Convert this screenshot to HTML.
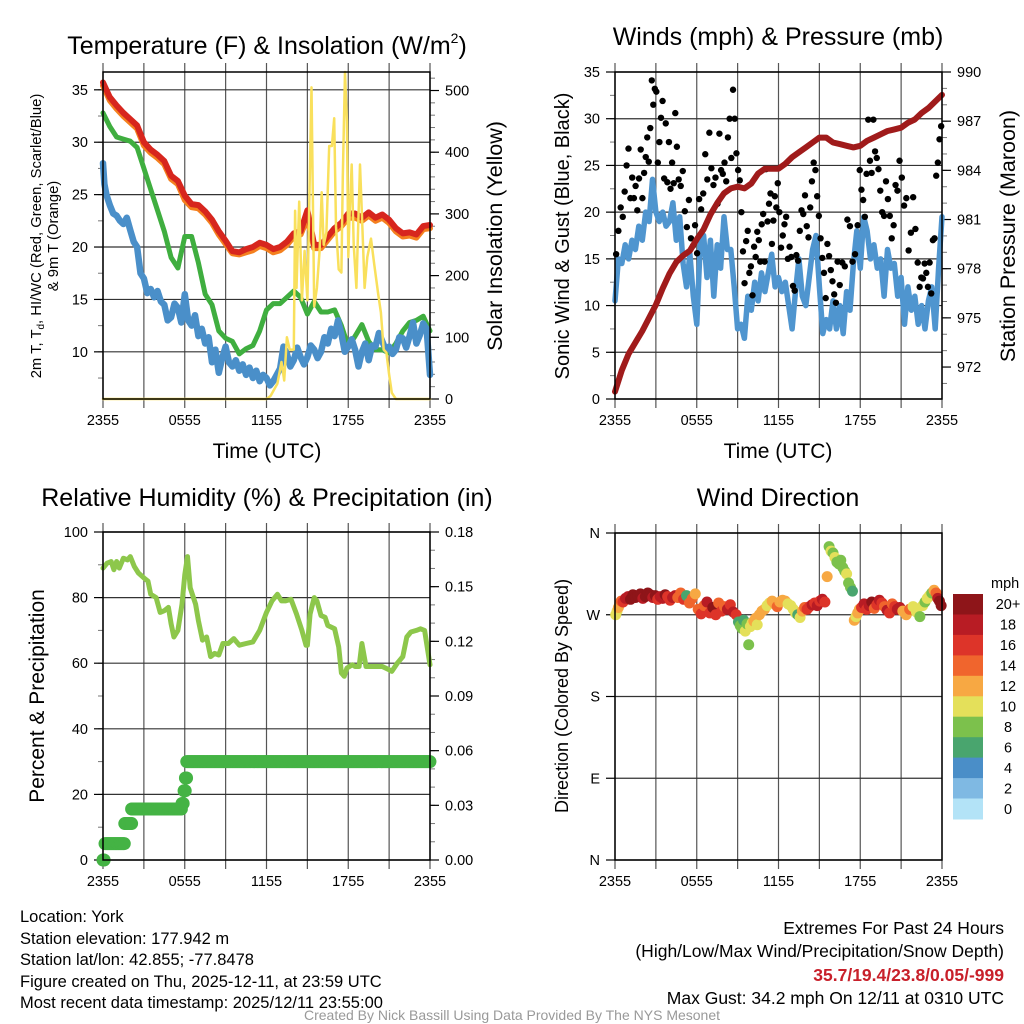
<!DOCTYPE html>
<html><head><meta charset="utf-8"><style>
html,body{margin:0;padding:0;background:#fff;}
svg{display:block;font-family:"Liberation Sans",Arial,sans-serif;}
</style></head><body>
<svg id="chart" width="1024" height="1024" viewBox="0 0 1024 1024" xmlns="http://www.w3.org/2000/svg">
<rect x="0" y="0" width="1024" height="1024" fill="#fff"/>
<text x="267" y="54" font-size="25" text-anchor="middle">Temperature (F) &amp; Insolation (W/m<tspan font-size="14" dy="-11">2</tspan><tspan dy="11">)</tspan></text>
<text x="778" y="45" font-size="25" text-anchor="middle">Winds (mph) &amp; Pressure (mb)</text>
<text x="267" y="506" font-size="25" text-anchor="middle">Relative Humidity (%) &amp; Precipitation (in)</text>
<text x="778" y="506" font-size="25" text-anchor="middle">Wind Direction</text>

<text font-size="14.8" text-anchor="middle" transform="translate(41,236) rotate(-90)">2m T, T<tspan font-size="10" dy="3">d</tspan><tspan dy="-3">, HI/WC (Red, Green, Scarlet/Blue)</tspan></text>
<text font-size="14.8" text-anchor="middle" transform="translate(58,236) rotate(-90)">&amp; 9m T (Orange)</text>
<text font-size="21.5" text-anchor="middle" transform="translate(502,236) rotate(-90)">Solar Insolation (Yellow)</text>
<text font-size="20" text-anchor="middle" transform="translate(569,236) rotate(-90)">Sonic Wind &amp; Gust (Blue, Black)</text>
<text font-size="21.5" text-anchor="middle" transform="translate(1015,236) rotate(-90)">Station Pressure (Maroon)</text>
<text font-size="21" text-anchor="middle" transform="translate(44,696) rotate(-90)">Percent &amp; Precipitation</text>
<text font-size="18" text-anchor="middle" transform="translate(568,696) rotate(-90)">Direction (Colored By Speed)</text>
<text x="267" y="458" font-size="21" text-anchor="middle">Time (UTC)</text>
<text x="778" y="458" font-size="21" text-anchor="middle">Time (UTC)</text>

<g font-size="16.5">
<text x="20" y="922">Location: York</text>
<text x="20" y="944">Station elevation: 177.942 m</text>
<text x="20" y="965">Station lat/lon: 42.855; -77.8478</text>
<text x="20" y="987">Figure created on Thu, 2025-12-11, at 23:59 UTC</text>
<text x="20" y="1008">Most recent data timestamp: 2025/12/11 23:55:00</text>
</g>
<g font-size="17.5" text-anchor="end">
<text x="1004" y="934">Extremes For Past 24 Hours</text>
<text x="1004" y="957">(High/Low/Max Wind/Precipitation/Snow Depth)</text>
<text x="1004" y="981" fill="#c8202a" font-weight="bold">35.7/19.4/23.8/0.05/-999</text>
<text x="1004" y="1004">Max Gust: 34.2 mph On 12/11 at 0310 UTC</text>
</g>
<text x="512" y="1020" font-size="14" fill="#999" text-anchor="middle">Created By Nick Bassill Using Data Provided By The NYS Mesonet</text>
</svg>
<script>
// ---------- DATA ----------
const xTickHours = [0, 6, 12, 18, 24];
const xTickLabels = ["2355", "0555", "1155", "1755", "2355"];

const tempT = [0,0.5,1,1.5,2,2.5,3,3.5,4,4.5,5,5.5,6,6.5,7,7.5,8,8.5,9,9.5,10,10.5,11,11.5,12,12.5,13,13.5,14,14.5,15,15.5,16,16.5,17,17.5,18,18.5,19,19.5,20,20.5,21,21.5,22,22.5,23,23.5,24];
const tempRed = [35.7,34.3,33.5,32.8,32.2,31.6,30,29.3,28.8,28.2,26.8,26.3,24.9,24.1,24,23.4,22.6,21.5,20.6,19.6,19.5,19.8,20,20.4,20.2,19.8,20,20.5,21.3,21.5,23.5,20.2,20.2,21,21.8,22.3,23.2,23.2,22.8,23.3,22.8,23.1,22.6,21.8,21.3,21.4,21.2,22,22.1];
const tempOrange = [35.4,34,33.2,32.5,31.9,31.3,29.7,29,28.5,27.9,26.5,26,24.5,23.8,23.7,23.1,22.3,21.2,20.3,19.4,19.3,19.5,19.7,20.1,19.9,19.5,19.7,20.2,21,21.2,22.8,19.9,19.9,20.7,21.5,22,22.8,22.8,22.5,23,22.5,22.8,22.3,21.5,21,21.1,20.9,21.7,21.8];
const dewGreen = [32.8,31.5,30.5,30.3,30.1,29.5,27.5,25.5,23.5,21.5,19,18,21,21,18.5,15.5,14.5,12,11.3,11,9.8,10.3,10.6,12,14,14.6,14.6,15.2,15.8,15.2,13.6,14.8,13.8,13.8,14,12.5,10.5,11.5,12.6,11,10.2,10.2,9.9,10.8,12,12.8,13,13.4,12];
const chillT = [0,0.1,0.25,0.5,0.75,1,1.25,1.5,1.75,2,2.25,2.5,2.75,3,3.25,3.5,3.75,4,4.25,4.5,4.75,5,5.25,5.5,5.75,6,6.25,6.5,6.75,7,7.25,7.5,7.75,8,8.25,8.5,8.75,9,9.25,9.5,9.75,10,10.25,10.5,10.75,11,11.25,11.5,11.75,12,12.25,12.5,12.75,13,13.25,13.5,13.75,14,14.25,14.5,14.75,15,15.25,15.5,15.75,16,16.25,16.5,16.75,17,17.25,17.5,17.75,18,18.25,18.5,18.75,19,19.25,19.5,19.75,20,20.25,20.5,20.75,21,21.25,21.5,21.75,22,22.25,22.5,22.75,23,23.25,23.5,23.75,24];
const chillBlue = [28,26,25,24,23.2,23,22.5,22.2,22.8,21.6,20.5,20,17.5,17,15.6,16,15.2,15.8,14.8,14.5,13,13.3,14.6,14.2,12.8,15.5,13,12.5,13.5,11.5,12.2,10.8,11.4,9,10.2,8,9.4,10.5,9,8.6,9.2,8.2,8.8,7.8,8.5,7.5,8.2,7.2,7.8,7.5,6.8,7.2,7.8,8.4,10.5,9.8,8.6,9.2,10.4,9.5,8.8,9.5,10.6,10.2,9.4,10,11.4,10.8,12.2,11.5,13,11.7,10,10.5,11.2,10.2,8.6,10,10.8,9.2,10.6,10.5,11.8,11,10.2,10.5,9.8,10.2,11.4,11.3,10.4,11.5,12.8,10.8,11.6,12.7,12.2,7.8];
const solarT = [0,12,12.3,12.8,13.1,13.3,13.5,13.7,14.0,14.1,14.2,14.4,14.6,14.8,15.0,15.3,15.5,15.7,15.9,16.05,16.2,16.4,16.6,16.8,16.97,17.1,17.3,17.5,17.6,17.76,17.9,18.0,18.1,18.25,18.4,18.6,18.86,19.0,19.2,19.4,19.67,19.9,20.2,20.4,20.6,20.8,21.0,21.2,21.5,24];
const solarW = [0,0,5,25,60,30,100,80,80,305,180,320,160,240,160,505,150,180,240,335,250,270,410,410,455,280,210,205,360,530,450,230,300,380,250,180,380,300,180,230,260,220,170,140,80,75,40,10,0,0];

const presT = [0,0.5,1,1.5,2,2.5,3,3.5,4,4.5,5,5.5,6,6.5,7,7.5,8,8.5,9,9.5,10,10.5,11,11.5,12,12.5,13,13.5,14,14.5,15,15.5,16,16.5,17,17.5,18,18.5,19,19.5,20,20.5,21,21.5,22,22.5,23,23.5,24];
const presMb = [970.5,971.8,972.8,973.5,974.2,975,975.8,976.8,977.7,978.4,978.8,979.1,979.8,980.4,981.3,982,982.6,982.9,983,982.9,983.2,983.8,984.1,984.1,984.1,984.4,984.8,985.1,985.4,985.7,986,986,985.7,985.6,985.5,985.4,985.5,985.8,986,986.2,986.4,986.5,986.6,986.9,987.1,987.5,987.8,988.2,988.6];
const windT = [0,0.25,0.5,0.75,1,1.25,1.5,1.75,2,2.25,2.5,2.75,3,3.25,3.5,3.75,4,4.25,4.5,4.75,5,5.25,5.5,5.75,6,6.25,6.5,6.75,7,7.25,7.5,7.75,8,8.25,8.5,8.75,9,9.25,9.5,9.75,10,10.25,10.5,10.75,11,11.25,11.5,11.75,12,12.25,12.5,12.75,13,13.25,13.5,13.75,14,14.25,14.5,14.75,15,15.25,15.5,15.75,16,16.25,16.5,16.75,17,17.25,17.5,17.75,18,18.25,18.5,18.75,19,19.25,19.5,19.75,20,20.25,20.5,20.75,21,21.25,21.5,21.75,22,22.25,22.5,22.75,23,23.25,23.5,23.75,24];
const windMph = [10.5,15,14.5,16.5,15,17,16,18.5,17,20,19,23.5,20,19,20,18.5,19,21,17,19.5,14.5,12,15.5,11,8,16.5,17.5,13,17,11,16.5,14,19.5,16,16,12,7.5,8,6.5,11,9.5,12.5,10.5,13.5,11.5,13.5,15.5,12,13,11.5,12.5,10,7.5,11.5,15,11,10,13,16,17.5,12,7,8.5,7.5,10.5,7.5,10,7,11.5,9.5,14.5,18,14,19.5,18,15,16.5,14,15,11,16,14,14.5,11,13,8,12,9.5,11,8,10,7.5,10.5,12,7.5,14,19.5];
// gust groups: [startHour, endHour, values...]
const gustGroupStart = [0,0.5,1.2,2.2,3.2,4.6,6.1,7.6,9.1,10.5,12,13.5,14.9,16.4,17.9,19.4,20.8,22.3];
const gustGroupEnd = [0.5,1.2,2.2,3.2,4.6,6.1,7.6,9.1,10.5,12,13.5,14.9,16.4,17.9,19.4,20.8,22.3,24];
const gustGroupVals = [
 [15.5,18,20.5],
 [19.5,22.2,25,26.8,21.5],
 [23.7,21.5,22.8,20.2,23.6,26.7,21.5,24.2],
 [25.9,28,25.4,29,34.1,31.5,33.2,32.9,25.3],
 [27.5,30.1,31.9,23.6,29.5,23.2,27.5,22.5,25.3,23.1,30.6,27],
 [23.5,22.8,24.4,20.1,18.4,21.3,17.2,16.4,18.6,15.6],
 [21.4,20.3,22,26.2,23.5,28.5,24.7,22.9,23.7,20.9],
 [28.4,24.5,24.1,25.3,23.3,28,30,25.8,33.1,30,26.3,24.5],
 [23.4,20,15.8,12.4,16.9,18,13.5,14.2,11.1,16.3,15.2,17.9],
 [17,14.7,18.7,19.8,14.7,24.6,19,20.9,22,16.6,19.1,21.7,20.5,23.1],
 [20,16.2,17.5,18.7,19.5,15,16.3,15.2,12.1,11.6,15.4,14.8],
 [18,20.2,19.8,21.8,18.5,17.3,20.5,23.3,25.3,24.5,21.7],
 [19.6,17.2,15.1,13.5,10.8,16.6,15.3,13.8,12.6,11.2,10.3,14.7],
 [12.2,14.6,14.2,19.2,18.5,14.7,15.5,18.6],
 [24.5,22.4,21.3,19.5,24.1,29.9,25.5,24.2,29.9,26.5,25.8,24.6],
 [22.3,20,19.6,23.3,21.4,19.6,17.2,18.6,22.9,22.3],
 [25.5,23.7,20.7,21.5,15.9,17.8,21.6,18.2,14.6],
 [12,13,12.9,14.5,13.5,12,14.6,11.3,17,17.2,23.9,25.3,27.8,29.2]
];

const rhT = [0,0.3,0.6,0.8,1,1.2,1.5,1.8,2,2.3,2.6,3,3.3,3.5,3.9,4.2,4.5,4.8,5,5.2,5.5,5.8,6,6.2,6.4,6.8,7,7.3,7.6,7.9,8.2,8.5,8.8,9.2,9.6,10,10.5,11,11.5,12,12.4,12.8,13.1,13.4,13.8,14.2,14.6,14.9,15,15.2,15.5,15.7,16,16.3,16.5,17,17.3,17.5,17.7,17.9,18.3,18.5,18.8,19,19.3,19.6,20,20.5,21,21.2,21.6,22,22.3,22.6,23,23.3,23.6,24];
const rhPct = [89,90.5,91,88.5,91,89,92,91.5,92.5,89.5,87.5,86,85,81,80,75.5,76,77,72,68,70,78,87,92.5,83,78,73,67,68,62,63,62.5,66,66,67.5,65.5,66,66.5,70,75.5,79,81,79,79,79.5,75,70,65.5,65.5,75,80,79,74.5,74,71.5,70.5,65,57,56,58.5,59.5,59,59,66,59,59,59,59,58,57.5,60,62,68,69.5,70,70.5,70,59.5];
const precipStepT = [0,0.15,1.6,2.1,5.8,5.95,6.05,6.15,24];
const precipIn = [0,0.009,0.02,0.028,0.031,0.038,0.045,0.054,0.054];

// wind direction groups
const dirGroupStart = [0,0.5,4.5,6,9,10.5,12,13,14,15.5,17.5,18,21,22.5,23.5];
const dirGroupEnd = [0.5,4.5,6,9,10.5,12,13,14,15.5,17.5,18,21,22.5,23.5,24];
const dirGroupDeg = [
 [270,274,278,282,285],
 [284,288,290,287,292,289,291,293,288,290,294,292,289,291,287,290,288,292,290,286,289,291],
 [289,294,287,291,283,288,293],
 [276,271,280,284,272,278,270,283,274,279,276,281,273,270],
 [262,258,255,264,252,260,237,257,261,263,266,259],
 [270,274,276,280,283,285,282,279],
 [284,286,285,282,280],
 [276,272,270,267,274,278],
 [276,279,281,283,280,285,287,284],
 [312,345,340,338,333,328,326,330,322,318,315,305,300,296],
 [264,268,272,276],
 [278,282,276,280,284,277,281,286,283,279,275,272,282,279,276,278],
 [274,270,276,279,273,268],
 [280,284,288,291,294,297],
 [294,288,285,280]
];
const dirGroupSpd = [
 [10,11,12,13,14],
 [17,18,19,20,21,20,21,21,19,20,22,21,18,20,17,19,18,21,17,16,18,19],
 [15,14,16,7,14,15,13],
 [15,17,14,18,16,20,17,15,16,14,18,16,19,17],
 [7,8,9,7,10,9,8,10,11,12,13,11],
 [12,13,12,11,10,12,13,14],
 [12,13,12,11,10],
 [10,11,6,10,12,14],
 [16,17,18,16,19,17,18,17],
 [13,9,10,8,10,9,9,8,9,8,10,9,8,7],
 [12,11,12,13],
 [17,19,16,18,20,15,17,19,16,14,18,17,15,16,19,18],
 [13,12,14,11,10,9],
 [10,9,11,10,9,12],
 [15,18,20,21]
];
const speedColors = ["#b3e3f7","#7fb9e3","#4a8ec8","#49a56e","#7cc14c","#e4e05a","#f7a843","#f0652d","#dd3429","#b81c24","#8e1519"];
const speedLabels = ["0","2","4","6","8","10","12","14","16","18","20+"];

// ---------- DRAWING ----------
const NS = "http://www.w3.org/2000/svg";
const svg = document.getElementById("chart");
function mk(tag, parent){ const e=document.createElementNS(NS,tag); (parent||svg).appendChild(e); return e; }
function lin(d0,d1,r0,r1){ return v => r0 + (v-d0)/(d1-d0)*(r1-r0); }

function panel(name, x0,x1,y0,y1){
  const g = mk("g");
  
  
  const xs = lin(0,24,x0,x1);
  for(let h=0; h<=24; h+=3){
    const l = mk("line", g);
    
    
    l.setAttribute("x1", xs(h)); l.setAttribute("x2", xs(h));
    l.setAttribute("y1", y0-9); l.setAttribute("y2", y1+9);
    l.setAttribute("stroke", "#555"); l.setAttribute("stroke-width", "1.2");
  }
  xTickHours.forEach((h,i)=>{
    const t = mk("text", g);
    
    
    t.setAttribute("x", xs(h)); t.setAttribute("y", y1+26);
    t.setAttribute("font-size","14.5"); t.setAttribute("text-anchor","middle");
    t.textContent = xTickLabels[i];
  });
  return {g, xs, x0,x1,y0,y1};
}
function frame(p){
  const r = mk("rect", p.g);
  
  
  r.setAttribute("x",p.x0); r.setAttribute("y",p.y0);
  r.setAttribute("width",p.x1-p.x0); r.setAttribute("height",p.y1-p.y0);
  r.setAttribute("fill","none"); r.setAttribute("stroke","#000"); r.setAttribute("stroke-width","1.5");
}
function yAxis(p, ys, side, majors, labels, minors, grid){
  const x = side==="left" ? p.x0 : p.x1;
  const dir = side==="left" ? -1 : 1;
  minors.forEach(v=>{
    const l = mk("line", p.g);
    
    
    l.setAttribute("x1",x); l.setAttribute("x2",x+dir*5);
    l.setAttribute("y1",ys(v)); l.setAttribute("y2",ys(v));
    l.setAttribute("stroke","#777"); l.setAttribute("stroke-width","1");
  });
  majors.forEach((v,i)=>{
    const y = ys(v);
    if(grid){
      const gl = mk("line", p.g);
      
      
      gl.setAttribute("x1",p.x0); gl.setAttribute("x2",p.x1);
      gl.setAttribute("y1",y); gl.setAttribute("y2",y);
      gl.setAttribute("stroke","#333"); gl.setAttribute("stroke-width","1.2");
    }
    const l = mk("line", p.g);
    
    
    l.setAttribute("x1",x); l.setAttribute("x2",x+dir*9);
    l.setAttribute("y1",y); l.setAttribute("y2",y);
    l.setAttribute("stroke","#000"); l.setAttribute("stroke-width","1.2");
    const t = mk("text", p.g);
    
    
    t.setAttribute("x", x+dir*15); t.setAttribute("y", y+5);
    t.setAttribute("font-size","14.5"); t.setAttribute("text-anchor", side==="left"?"end":"start");
    t.textContent = labels[i];
  });
}
function polyline(p, xsArr, ysArr, xs, ys, color, w, name){
  const pl = mk("polyline", p.g);
  
  
  pl.setAttribute("points", xsArr.map((t,i)=>xs(t).toFixed(1)+","+ys(ysArr[i]).toFixed(1)).join(" "));
  pl.setAttribute("fill","none"); pl.setAttribute("stroke",color);
  pl.setAttribute("stroke-width",w); pl.setAttribute("stroke-linejoin","round"); pl.setAttribute("stroke-linecap","round");
  return pl;
}
function range(a,b,s){ const r=[]; for(let v=a; v<=b+1e-9; v+=s) r.push(+v.toFixed(4)); return r; }

// Panel 1
const p1 = panel("temperature-panel",103,430,72,399);
const y1L = lin(5.5,36.7,399,72), y1R = lin(0,530,399,72);
yAxis(p1,y1L,"left",[10,15,20,25,30,35],["10","15","20","25","30","35"],range(7.5,35,2.5),true);
yAxis(p1,y1R,"right",[0,100,200,300,400,500],["0","100","200","300","400","500"],range(20,520,20),false);
polyline(p1,tempT,tempOrange,p1.xs,y1L,"#f4801f",6,"nine-meter-temp-line");
polyline(p1,tempT,tempRed,p1.xs,y1L,"#d7261e",6,"two-meter-temp-line");
polyline(p1,tempT,dewGreen,p1.xs,y1L,"#3fae3f",5,"dewpoint-line");
polyline(p1,chillT,chillBlue,p1.xs,y1L,"#4a8fc9",6.5,"wind-chill-line");
polyline(p1,solarT,solarW,p1.xs,y1R,"#f9e05c",2.5,"solar-insolation-line");
frame(p1);

// Panel 2
const p2 = panel("winds-panel",615,942,72,399);
const y2L = lin(0,35,399,72), y2R = lin(970.05,990,399,72);
yAxis(p2,y2L,"left",[0,5,10,15,20,25,30,35],["0","5","10","15","20","25","30","35"],range(2.5,32.5,2.5),true);
yAxis(p2,y2R,"right",[972,975,978,981,984,987,990],["972","975","978","981","984","987","990"],range(971,989,1),false);
polyline(p2,windT,windMph,p2.xs,y2L,"#4f95cf",5.5,"sonic-wind-line");
gustGroupVals.forEach((vals,gi)=>{
  const t0=gustGroupStart[gi], t1=gustGroupEnd[gi];
  vals.forEach((v,i)=>{
    const t = t0 + (t1-t0)*(i+0.5)/vals.length;
    const c = mk("circle", p2.g);
    
    
    c.setAttribute("cx",p2.xs(t)); c.setAttribute("cy",y2L(v)); c.setAttribute("r","3.2"); c.setAttribute("fill","#000");
  });
});
polyline(p2,presT,presMb,p2.xs,y2R,"#a01b1b",6,"station-pressure-line");
frame(p2);

// Panel 3
const p3 = panel("humidity-panel",103,430,532,860);
const y3L = lin(0,100,860,532), y3R = lin(0,0.18,860,532);
yAxis(p3,y3L,"left",[0,20,40,60,80,100],["0","20","40","60","80","100"],range(10,90,10),true);
yAxis(p3,y3R,"right",[0,0.03,0.06,0.09,0.12,0.15,0.18],["0.00","0.03","0.06","0.09","0.12","0.15","0.18"],range(0.01,0.17,0.01),false);
polyline(p3,rhT,rhPct,p3.xs,y3L,"#8dc74b",5,"relative-humidity-line");
for(let k=0;k<precipStepT.length-1;k++){
  for(let t=precipStepT[k]; t<precipStepT[k+1]-1e-6; t+=0.083){
    const c = mk("circle", p3.g);
    
    
    c.setAttribute("cx",p3.xs(t)); c.setAttribute("cy",y3R(precipIn[k])); c.setAttribute("r","6.5"); c.setAttribute("fill","#44b344");
  }
}
frame(p3);

// Panel 4
const p4 = panel("wind-direction-panel",615,942,533,860);
const y4 = lin(0,360,860,533);
yAxis(p4,y4,"left",[0,90,180,270,360],["N","E","S","W","N"],[],true);
dirGroupDeg.forEach((degs,gi)=>{
  const t0=dirGroupStart[gi], t1=dirGroupEnd[gi];
  degs.forEach((d,i)=>{
    const t = t0 + (t1-t0)*(i+0.5)/degs.length;
    const s = dirGroupSpd[gi][i];
    const c = mk("circle", p4.g);
    
    
    c.setAttribute("cx",p4.xs(t)); c.setAttribute("cy",y4(d)); c.setAttribute("r","5.5");
    c.setAttribute("fill",speedColors[Math.min(10,Math.floor(s/2))]);
  });
});
frame(p4);

// Colorbar
const cb = mk("g");


const cbTop=594, cbH=(819-594)/11;
const cbt = mk("text", cb);


cbt.setAttribute("x","991"); cbt.setAttribute("y","588"); cbt.setAttribute("font-size","14.5"); cbt.textContent="mph";
speedColors.forEach((col,i)=>{
  const idx = 10-i;
  const r = mk("rect", cb);
  
  
  r.setAttribute("x","953"); r.setAttribute("y",(cbTop+i*cbH).toFixed(1));
  r.setAttribute("width","30"); r.setAttribute("height",(cbH+0.5).toFixed(1));
  r.setAttribute("fill",speedColors[idx]);
  const t = mk("text", cb);
  
  
  t.setAttribute("x","1008"); t.setAttribute("y",(cbTop+i*cbH+cbH/2+5).toFixed(1));
  t.setAttribute("font-size","14.5"); t.setAttribute("text-anchor","middle");
  t.textContent = speedLabels[idx];
});
</script>
</body></html>
